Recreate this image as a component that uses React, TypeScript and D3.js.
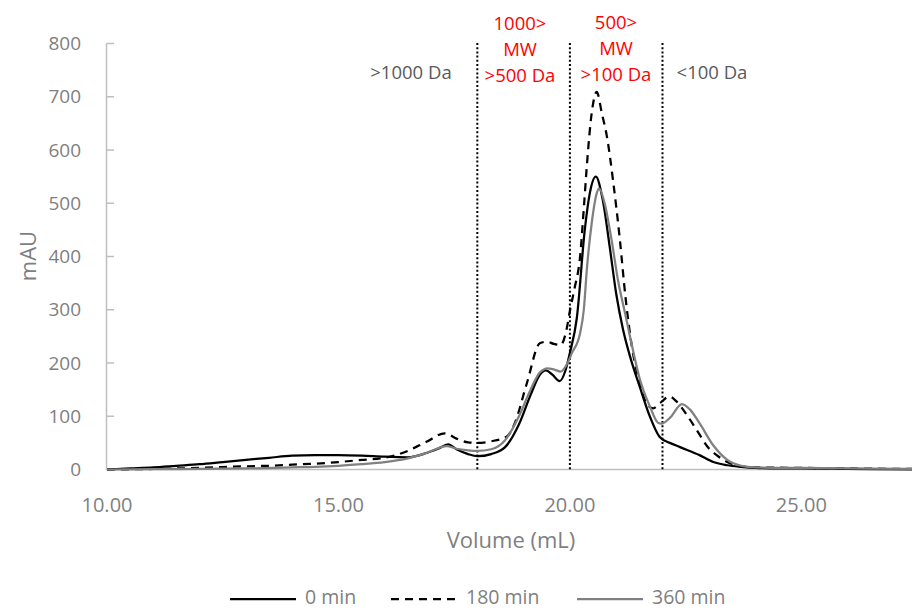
import React from "react";
import * as d3 from "d3";

const xTicks = [10, 15, 20, 25];
const yTicks = [0, 100, 200, 300, 400, 500, 600, 700, 800];

const s0x = [10, 10.5, 11, 11.5, 12, 12.5, 13, 13.5, 14, 14.5, 15, 15.5, 16, 16.5, 16.9, 17.15, 17.37, 17.55, 17.8, 18.0, 18.3, 18.6, 18.9, 19.15, 19.35, 19.48, 19.62, 19.78, 19.9, 20.0, 20.15, 20.32, 20.43, 20.56, 20.71, 20.86, 21.0, 21.15, 21.3, 21.51, 21.73, 21.94, 22.16, 22.38, 22.8, 23.1, 23.4, 23.7, 24, 24.5, 25, 26, 27.4];
const s0y = [0, 2, 4, 7, 10, 14, 18, 22, 26, 27, 27, 26, 24, 23, 31, 39, 47, 38, 29, 25, 29, 42, 85, 140, 178, 186, 178, 166, 185, 219, 285, 449, 519, 550, 506, 418, 330, 262, 212, 155, 99, 61, 50, 42, 27, 14, 8, 5, 3, 2, 2, 1, 0];

const s180x = [10, 11, 12, 13, 13.5, 14, 14.5, 15, 15.5, 16, 16.5, 16.9, 17.3, 17.55, 17.8, 18.0, 18.3, 18.64, 18.8, 19.07, 19.35, 19.5, 19.65, 19.8, 19.92, 20.0, 20.1, 20.22, 20.3, 20.37, 20.47, 20.58, 20.69, 20.8, 20.93, 21.08, 21.2, 21.35, 21.5, 21.65, 21.8, 21.95, 22.15, 22.3, 22.53, 22.74, 23.0, 23.17, 23.4, 23.7, 24, 25, 26, 27.4];
const s180y = [0, 1, 3, 6, 7, 9, 11, 14, 18, 22, 35, 52, 68, 58, 51, 50, 53, 62, 85, 162, 237, 240, 236, 234, 260, 298, 340, 400, 490, 575, 669, 709, 669, 625, 544, 431, 324, 225, 165, 125, 115, 125, 137, 128, 102, 74, 40, 27, 14, 6, 4, 3, 2, 1];

const s360x = [10, 11, 12, 13, 14, 14.5, 15, 15.5, 16, 16.5, 16.9, 17.34, 17.55, 17.8, 18.0, 18.3, 18.6, 18.9, 19.15, 19.35, 19.52, 19.65, 19.8, 19.95, 20.04, 20.22, 20.3, 20.37, 20.47, 20.58, 20.63, 20.75, 20.9, 21.04, 21.2, 21.36, 21.51, 21.73, 21.9, 21.98, 22.16, 22.42, 22.6, 22.8, 23.1, 23.4, 23.7, 24, 25, 26, 27.4];
const s360y = [0, 0.5, 1, 2, 4, 5, 7, 10, 14, 21, 31, 44, 39, 36, 35, 38, 55, 100, 150, 182, 190, 188, 184, 200, 218, 256, 300, 380, 462, 519, 528, 500, 431, 355, 290, 225, 170, 118, 88, 86, 97, 123, 112, 87, 45, 18, 7, 4, 3, 2, 1];

const seriesNames = ["0 min", "180 min", "360 min"];
const dividers = [18, 20, 22];

const W = 912;
const H = 610;
const FONT = "'Open Sans', sans-serif";

export default function App() {
  const x = d3.scaleLinear().domain([10, 27.39]).range([107, 912]);
  const y = d3.scaleLinear().domain([0, 800]).range([469.5, 43.5]);
  const line = d3
    .line<[number, number]>()
    .x((d) => x(d[0]))
    .y((d) => y(d[1]))
    .curve(d3.curveMonotoneX);
  const zip = (a: number[], b: number[]) => a.map((v, i) => [v, b[i]] as [number, number]);

  const series = [
    { name: seriesNames[0], d: zip(s0x, s0y), color: "#000000", dash: "none", w: 2.25 },
    { name: seriesNames[1], d: zip(s180x, s180y), color: "#000000", dash: "8,6", w: 2.25 },
    { name: seriesNames[2], d: zip(s360x, s360y), color: "#808080", dash: "none", w: 2.25 },
  ];

  const legendItems = [
    { x1: 230, tx: 305 },
    { x1: 391, tx: 466 },
    { x1: 577, tx: 652 },
  ];

  return (
    <div style={{ position: "absolute", left: 0, top: 0 }}>
      <svg width={W} height={H} style={{ display: "block", background: "#fff" }} fontFamily={FONT}>
        {/* y axis */}
        <line x1={106.5} x2={106.5} y1={y(800)} y2={y(0)} stroke="#bfbfbf" strokeWidth={1.5} />
        {yTicks.map((t) => (
          <g key={t}>
            <line x1={106.5} x2={114} y1={y(t)} y2={y(t)} stroke="#bfbfbf" strokeWidth={1.5} />
            <text x={81} y={y(t)} dy="0.35em" textAnchor="end" fontSize={19} fill="#7f7f7f">
              {t}
            </text>
          </g>
        ))}
        {/* x axis */}
        <line x1={106.5} x2={912} y1={y(0)} y2={y(0)} stroke="#bfbfbf" strokeWidth={1.5} />
        {xTicks.map((t) => (
          <text key={t} x={x(t)} y={512} textAnchor="middle" fontSize={20} fill="#7f7f7f">
            {t.toFixed(2)}
          </text>
        ))}
        <text x={511} y={548} textAnchor="middle" fontSize={22} fill="#7f7f7f">
          Volume (mL)
        </text>
        <text transform={`translate(36,256) rotate(-90)`} textAnchor="middle" fontSize={22} fill="#7f7f7f">
          mAU
        </text>

        {/* dividers */}
        {dividers.map((v) => (
          <line key={v} x1={x(v)} x2={x(v)} y1={43} y2={y(0)} stroke="#000" strokeWidth={2} strokeDasharray="2,2.2" />
        ))}

        {/* annotations */}
        <text x={411} y={79} textAnchor="middle" fontSize={18.5} fill="#595959">
          &gt;1000 Da
        </text>
        <text x={712} y={79} textAnchor="middle" fontSize={18.5} fill="#595959">
          &lt;100 Da
        </text>
        {["1000>", "MW", ">500 Da"].map((s, i) => (
          <text key={s} x={520} y={30 + i * 26} textAnchor="middle" fontSize={18.5} fill="#ff0000">
            {s}
          </text>
        ))}
        {["500>", "MW", ">100 Da"].map((s, i) => (
          <text key={s} x={616} y={29 + i * 26} textAnchor="middle" fontSize={18.5} fill="#ff0000">
            {s}
          </text>
        ))}

        {/* series */}
        {series.map((s) => (
          <path key={s.name} d={line(s.d) || ""} fill="none" stroke={s.color} strokeWidth={s.w} strokeDasharray={s.dash} />
        ))}

        {/* legend */}
        {series.map((s, i) => (
          <g key={s.name}>
            <line x1={legendItems[i].x1} x2={legendItems[i].x1 + 66} y1={599} y2={599} stroke={s.color} strokeWidth={s.w} strokeDasharray={s.dash} />
            <text x={legendItems[i].tx} y={597} dy="0.35em" fontSize={19.5} fill="#7f7f7f">
              {s.name}
            </text>
          </g>
        ))}
      </svg>
    </div>
  );
}
